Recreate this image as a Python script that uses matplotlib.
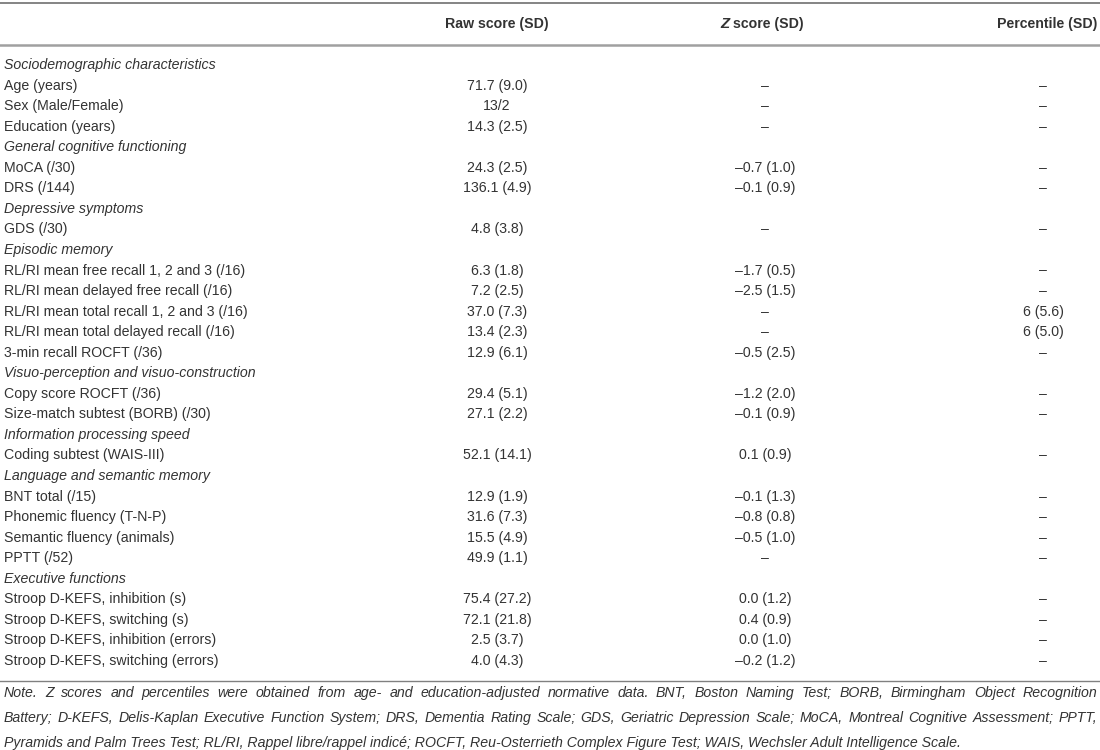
import matplotlib
matplotlib.use('Agg')
import matplotlib.pyplot as plt

plt.rcParams['font.family'] = ['Liberation Sans', 'DejaVu Sans']

# table content
headers = ['Raw score (SD)', 'score (SD)', 'Percentile (SD)']

labels = [
    'Sociodemographic characteristics', 'Age (years)', 'Sex (Male/Female)', 'Education (years)',
    'General cognitive functioning', 'MoCA (/30)', 'DRS (/144)',
    'Depressive symptoms', 'GDS (/30)',
    'Episodic memory', 'RL/RI mean free recall 1, 2 and 3 (/16)', 'RL/RI mean delayed free recall (/16)',
    'RL/RI mean total recall 1, 2 and 3 (/16)', 'RL/RI mean total delayed recall (/16)',
    '3-min recall ROCFT (/36)',
    'Visuo-perception and visuo-construction', 'Copy score ROCFT (/36)', 'Size-match subtest (BORB) (/30)',
    'Information processing speed', 'Coding subtest (WAIS-III)',
    'Language and semantic memory', 'BNT total (/15)', 'Phonemic fluency (T-N-P)',
    'Semantic fluency (animals)', 'PPTT (/52)',
    'Executive functions', 'Stroop D-KEFS, inhibition (s)', 'Stroop D-KEFS, switching (s)',
    'Stroop D-KEFS, inhibition (errors)', 'Stroop D-KEFS, switching (errors)',
]
# section rows are italic headings with no values
is_section = [True, False, False, False,
              True, False, False,
              True, False,
              True, False, False, False, False, False,
              True, False, False,
              True, False,
              True, False, False, False, False,
              True, False, False, False, False]

D = '\u2013'
raw = ['', '71.7 (9.0)', '13/2', '14.3 (2.5)',
       '', '24.3 (2.5)', '136.1 (4.9)',
       '', '4.8 (3.8)',
       '', '6.3 (1.8)', '7.2 (2.5)', '37.0 (7.3)', '13.4 (2.3)', '12.9 (6.1)',
       '', '29.4 (5.1)', '27.1 (2.2)',
       '', '52.1 (14.1)',
       '', '12.9 (1.9)', '31.6 (7.3)', '15.5 (4.9)', '49.9 (1.1)',
       '', '75.4 (27.2)', '72.1 (21.8)', '2.5 (3.7)', '4.0 (4.3)']
zscore = ['', D, D, D,
          '', D + '0.7 (1.0)', D + '0.1 (0.9)',
          '', D,
          '', D + '1.7 (0.5)', D + '2.5 (1.5)', D, D, D + '0.5 (2.5)',
          '', D + '1.2 (2.0)', D + '0.1 (0.9)',
          '', '0.1 (0.9)',
          '', D + '0.1 (1.3)', D + '0.8 (0.8)', D + '0.5 (1.0)', D,
          '', '0.0 (1.2)', '0.4 (0.9)', '0.0 (1.0)', D + '0.2 (1.2)']
pct = ['', D, D, D,
       '', D, D,
       '', D,
       '', D, D, '6 (5.6)', '6 (5.0)', D,
       '', D, D,
       '', D,
       '', D, D, D, D,
       '', D, D, D, D]

note_lines = [
    'Note. Z scores and percentiles were obtained from age- and education-adjusted normative data. BNT, Boston Naming Test; BORB, Birmingham Object Recognition',
    'Battery; D-KEFS, Delis-Kaplan Executive Function System; DRS, Dementia Rating Scale; GDS, Geriatric Depression Scale; MoCA, Montreal Cognitive Assessment; PPTT,',
    'Pyramids and Palm Trees Test; RL/RI, Rappel libre/rappel indicé; ROCFT, Reu-Osterrieth Complex Figure Test; WAIS, Wechsler Adult Intelligence Scale.',
]

W, H = 1100, 750
fig = plt.figure(figsize=(11, 7.5), dpi=100)
ax = fig.add_axes([0, 0, 1, 1])
ax.set_xlim(0, W)
ax.set_ylim(H, 0)
ax.axis('off')

txt = '#333333'
fs = 10.2
x_lab, x_raw, x_z, x_pct = 4, 497, 765, 1043

# rules
ax.plot([0, W], [2.5, 2.5], color='#707070', lw=1.2)
ax.plot([0, W], [44.5, 44.5], color='#a0a0a0', lw=1.8)
ax.plot([0, W], [680.5, 680.5], color='#808080', lw=1.0)

# header
hy = 24
ax.text(x_raw, hy, headers[0], ha='center', va='center', fontsize=fs, fontweight='bold', color=txt)
ax.text(720, hy, 'Z', ha='left', va='center', fontsize=fs + 0.5,
        fontweight='bold', fontstyle='italic', color=txt)
ax.text(733, hy, headers[1], ha='left', va='center', fontsize=fs, fontweight='bold', color=txt)
ax.text(1097, hy, headers[2], ha='right', va='center', fontsize=fs, fontweight='bold', color=txt)

# body
y0, dy = 65, 20.55
for i, lab in enumerate(labels):
    y = y0 + i * dy
    ax.text(x_lab, y, lab, ha='left', va='center', fontsize=fs, color=txt,
            fontstyle='italic' if is_section[i] else 'normal')
    ax.text(x_raw, y, raw[i], ha='center', va='center', fontsize=fs, color=txt)
    ax.text(x_z, y, zscore[i], ha='center', va='center', fontsize=fs, color=txt)
    ax.text(x_pct, y, pct[i], ha='center', va='center', fontsize=fs, color=txt)

# footnote, justified like the source for the first two lines
fig.canvas.draw()
r = fig.canvas.get_renderer()
inv = ax.transData.inverted()
note_y = [693, 718, 743]
left, right = 4, 1097
nfs = 10.2
for k, line in enumerate(note_lines):
    words = line.split(' ')
    if k == len(note_lines) - 1:
        ax.text(left, note_y[k], line, ha='left', va='center', fontsize=nfs, fontstyle='italic',
                color=txt)
        continue
    arts = [ax.text(0, note_y[k], w, ha='left', va='center', fontsize=nfs, fontstyle='italic',
                    color=txt) for w in words]
    widths = []
    for a in arts:
        bb = a.get_window_extent(renderer=r)
        p0 = inv.transform((bb.x0, bb.y0))
        p1 = inv.transform((bb.x1, bb.y0))
        widths.append(p1[0] - p0[0])
    gap = (right - left - sum(widths)) / (len(words) - 1)
    x = left
    for a, w in zip(arts, widths):
        a.set_x(x)
        x += w + gap

fig.savefig('out.png', dpi=100, facecolor='white')
